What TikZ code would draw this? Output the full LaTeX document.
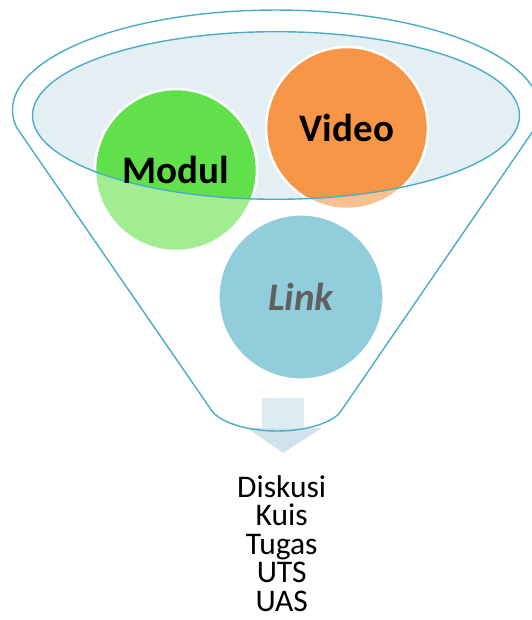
\documentclass[tikz,border=0pt]{standalone}
\usepackage{fontspec}
\setmainfont{Carlito}
\usepackage{tikz}
\usetikzlibrary{arrows}

\definecolor{rim}{RGB}{75,172,198}
\definecolor{surface}{RGB}{228,239,244}
\definecolor{modfull}{RGB}{98,224,75}
\definecolor{modlight}{RGB}{162,236,145}
\definecolor{vidfull}{RGB}{247,150,70}
\definecolor{vidlight}{RGB}{250,192,144}
\definecolor{linkblue}{RGB}{146,205,220}
\definecolor{linkgray}{RGB}{96,96,96}
\definecolor{spoutA}{RGB}{222,235,241}
\definecolor{spoutB}{RGB}{208,226,234}

\begin{document}
\begin{tikzpicture}[x=1pt, y=-1pt]
	\tikzstyle{rimline} = [draw=rim, line width=1.4pt]
	\tikzstyle{ring} = [draw=white, line width=2.5pt]
	\tikzstyle{bubbletext} = [font=\fontsize{39}{39}\selectfont\bfseries, inner sep=0pt]
	\tikzstyle{listtext} = [font=\fontsize{31.5}{28.5}\selectfont, align=center, anchor=north, inner sep=0pt]
	\useasboundingbox (0,0) rectangle (531,620);
	\coordinate (M) at (176,170);
	\coordinate (V) at (347,128);
	\coordinate (L) at (301,297);
	\coordinate (S) at (276,115.5);
	% spout
	\fill[spoutA] (262,398) rectangle (304,428);
	\fill[spoutB] (247,428) -- (322,428) -- (283,453) -- cycle;
	% funnel body
	\path[rimline, line join=round] (16.5,127.4)
	  arc[start angle=170, end angle=370, x radius=263.5, y radius=100]
	  -- (341,411)
	  .. controls (334,422) and (308,431) .. (277,431)
	  .. controls (246,431) and (220,422) .. (212,411)
	  -- cycle;
	\fill[surface] (S) ellipse[x radius=243.5, y radius=83.8];
	% bubbles
	\fill[modlight] (M) circle[radius=81];
	\fill[vidlight] (V) circle[radius=81];
	\begin{scope}
	  \clip (S) ellipse[x radius=243.5, y radius=83.8];
	  \fill[modfull] (M) circle[radius=81];
	  \fill[vidfull] (V) circle[radius=81];
	\end{scope}
	\path[ring] (M) circle[radius=81];
	\path[ring] (V) circle[radius=81];
	\path[rimline] (S) ellipse[x radius=243.5, y radius=83.8];
	\fill[linkblue] (L) circle[radius=82];
	\path[ring, line width=1.2pt] (L) circle[radius=82];
	\path
	  node[bubbletext] (modul) at (M) {Modul}
	  node[bubbletext] (video) at (V) {Video}
	  node[bubbletext, text=linkgray, font=\fontsize{39}{39}\selectfont\bfseries\itshape] (link) at (L) {Link}
	  node[listtext] (tasks) at (281.7,475) {Diskusi\\Kuis\\Tugas\\UTS\\UAS}
	  ;
\end{tikzpicture}
\end{document}
